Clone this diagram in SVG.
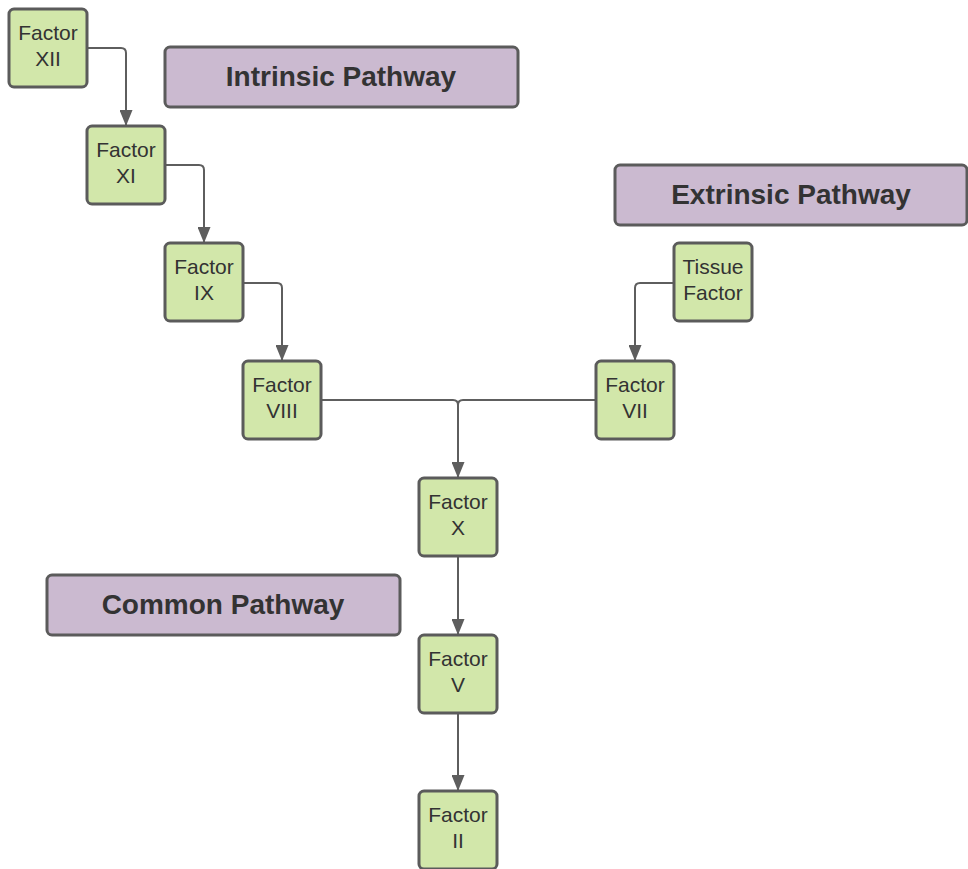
<svg xmlns="http://www.w3.org/2000/svg" width="968" height="869" viewBox="0 0 968 869">
<defs>
<style>
.node rect{fill:#d2e7aa;stroke:#5b5b5b;stroke-width:3}
.node text{font-family:"Liberation Sans",Arial,sans-serif;font-size:21px;fill:#333;text-anchor:middle}
.lbl rect{fill:#cbbad0;stroke:#5b5b5b;stroke-width:3}
.lbl text{font-family:"Liberation Sans",Arial,sans-serif;font-size:28px;font-weight:bold;fill:#333;text-anchor:middle}
.edges path{fill:none;stroke:#5e5e5e;stroke-width:2}
</style>
<marker id="arr" markerWidth="16" markerHeight="13" refX="15" refY="6.5" orient="auto" markerUnits="userSpaceOnUse" viewBox="0 0 16 13">
<path d="M0,0 L16,6.5 L0,13 Z" fill="#5e5e5e"/>
</marker>
</defs>
<rect width="968" height="869" fill="#fff"/>
<g class="edges">
<path d="M87,48 H121 Q126,48 126,53 V125" marker-end="url(#arr)"/>
<path d="M165,165 H199 Q204,165 204,170 V242" marker-end="url(#arr)"/>
<path d="M243,283 H277 Q282,283 282,288 V360" marker-end="url(#arr)"/>
<path d="M674,283 H640 Q635,283 635,288 V360" marker-end="url(#arr)"/>
<path d="M321,400 H453 Q458,400 458,405 V477" marker-end="url(#arr)"/>
<path d="M596,400 H463 Q458,400 458,405"/>
<path d="M458,556 V634" marker-end="url(#arr)"/>
<path d="M458,713 V790" marker-end="url(#arr)"/>
</g>
<g id="lbl-intrinsic" class="lbl"><rect x="165" y="47" width="353" height="60" rx="5"/><text x="341" y="86">Intrinsic Pathway</text></g>
<g id="lbl-extrinsic" class="lbl"><rect x="615" y="165" width="352" height="60" rx="5"/><text x="791" y="204">Extrinsic Pathway</text></g>
<g id="lbl-common" class="lbl"><rect x="47" y="575" width="353" height="60" rx="5"/><text x="223" y="614">Common Pathway</text></g>
<g id="f12" class="node"><rect x="9" y="9" width="78" height="78" rx="5"/><text x="48" y="40">Factor</text><text x="48" y="66">XII</text></g>
<g id="f11" class="node"><rect x="87" y="126" width="78" height="78" rx="5"/><text x="126" y="157">Factor</text><text x="126" y="183">XI</text></g>
<g id="f9" class="node"><rect x="165" y="243" width="78" height="78" rx="5"/><text x="204" y="274">Factor</text><text x="204" y="300">IX</text></g>
<g id="f8" class="node"><rect x="243" y="361" width="78" height="78" rx="5"/><text x="282" y="392">Factor</text><text x="282" y="418">VIII</text></g>
<g id="tf" class="node"><rect x="674" y="243" width="78" height="78" rx="5"/><text x="713" y="274">Tissue</text><text x="713" y="300">Factor</text></g>
<g id="f7" class="node"><rect x="596" y="361" width="78" height="78" rx="5"/><text x="635" y="392">Factor</text><text x="635" y="418">VII</text></g>
<g id="f10" class="node"><rect x="419" y="478" width="78" height="78" rx="5"/><text x="458" y="509">Factor</text><text x="458" y="535">X</text></g>
<g id="f5" class="node"><rect x="419" y="635" width="78" height="78" rx="5"/><text x="458" y="666">Factor</text><text x="458" y="692">V</text></g>
<g id="f2" class="node"><rect x="419" y="791" width="78" height="78" rx="5"/><text x="458" y="822">Factor</text><text x="458" y="848">II</text></g>
</svg>
